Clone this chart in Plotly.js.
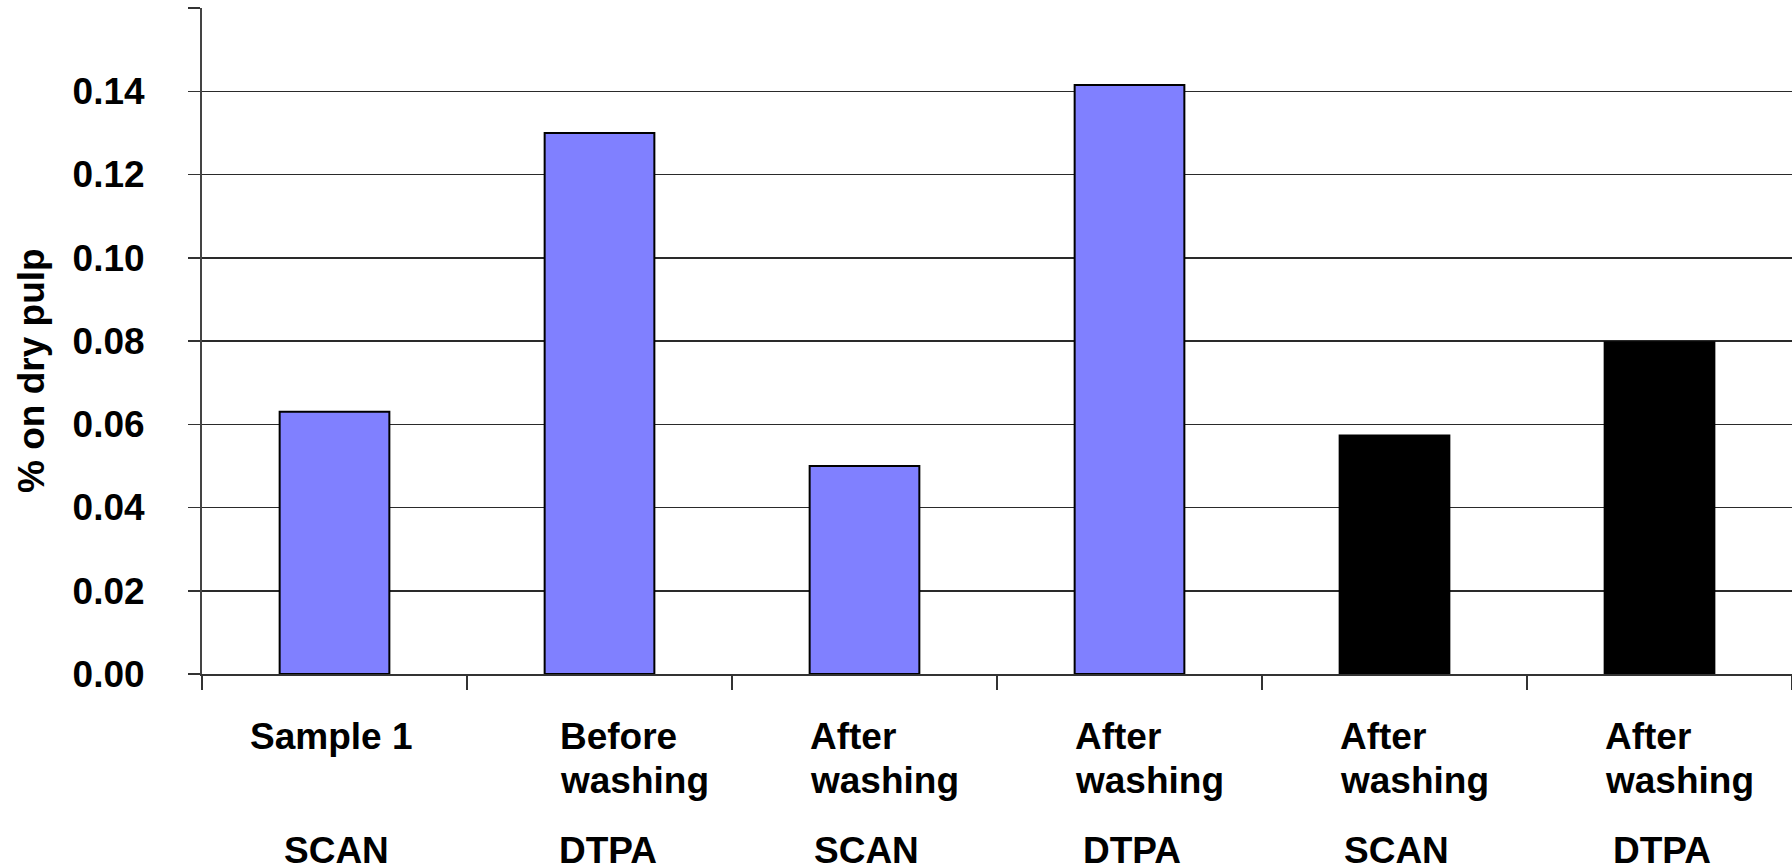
<!DOCTYPE html>
<html>
<head>
<meta charset="utf-8">
<script src="https://cdn.plot.ly/plotly-3.0.1.min.js"></script>
<style>
  html, body { margin: 0; padding: 0; background: #ffffff; }
  #chart { width: 1792px; height: 868px; }
</style>
</head>
<body>
<div id="chart"></div>
<script>
// Pulp samples: first label line, second label line, analysis method
const sampleLabels    = ['Sample 1', 'Before', 'After', 'After', 'After', 'After'];
const sampleSubLabels = ['', 'washing', 'washing', 'washing', 'washing', 'washing'];
const methods         = ['SCAN', 'DTPA', 'SCAN', 'DTPA', 'SCAN', 'DTPA'];

// Content, % on dry pulp
const values = [0.063, 0.13, 0.05, 0.1415, 0.0573, 0.0797];

// Bar fills (blue group, black group)
const barColors = ['#8080FF', '#8080FF', '#8080FF', '#8080FF', '#000000', '#000000'];

// Value axis ticks
const yTickValues = [0, 0.02, 0.04, 0.06, 0.08, 0.10, 0.12, 0.14, 0.16];
const yTickLabels = ['0.00', '0.02', '0.04', '0.06', '0.08', '0.10', '0.12', '0.14', ''];

const FONT = 'Liberation Sans, Arial, Helvetica, sans-serif';
const FS = 37;

const positions = values.map((_, i) => i);
const boundaries = [];
for (let i = 0; i <= values.length; i++) boundaries.push(i - 0.5);

const trace = {
  type: 'bar',
  x: positions,
  y: values,
  width: 0.414,
  marker: {
    color: barColors,
    line: { color: '#000000', width: 2 }
  },
  hoverinfo: 'skip'
};

const annotations = [];
const labelFont = { family: FONT, size: FS, color: '#000000', weight: 700 };

positions.forEach((p, i) => {
  const twoLine = sampleSubLabels[i] !== '';
  // the "Before washing" block sits a little further right than the "After washing" ones
  const shift = !twoLine ? -4 : (i === 1 ? -42 : -57);
  annotations.push({
    xref: 'x', yref: 'paper', x: p, y: 0,
    text: sampleLabels[i], showarrow: false,
    xanchor: twoLine ? 'left' : 'center', yanchor: 'middle',
    xshift: shift, yshift: -62,
    font: labelFont
  });
  if (twoLine) {
    annotations.push({
      xref: 'x', yref: 'paper', x: p, y: 0,
      text: sampleSubLabels[i], showarrow: false,
      xanchor: 'left', yanchor: 'middle',
      xshift: shift, yshift: -106,
      font: labelFont
    });
  }
  annotations.push({
    xref: 'x', yref: 'paper', x: p, y: 0,
    text: methods[i], showarrow: false,
    xanchor: 'center', yanchor: 'middle',
    xshift: i === 1 ? 8 : 2, yshift: -176,
    font: labelFont
  });
});

// Value axis title
annotations.push({
  xref: 'paper', yref: 'paper', x: 0, y: 0.455,
  xanchor: 'center', yanchor: 'middle', xshift: -170,
  text: '% on dry pulp', showarrow: false, textangle: -90,
  font: labelFont
});

const layout = {
  width: 1792,
  height: 868,
  margin: { l: 202, r: 0, t: 8, b: 194, pad: 0 },
  paper_bgcolor: '#ffffff',
  plot_bgcolor: '#ffffff',
  showlegend: false,
  font: { family: FONT, size: FS, color: '#000000' },
  xaxis: {
    type: 'linear',
    range: [-0.5, values.length - 0.5],
    tickvals: boundaries,
    ticktext: boundaries.map(() => ''),
    ticks: 'outside',
    ticklen: 14,
    tickwidth: 1.5,
    tickcolor: '#333333',
    showgrid: false,
    zeroline: false,
    showline: true,
    linecolor: '#333333',
    linewidth: 2,
    fixedrange: true
  },
  yaxis: {
    range: [0, 0.16],
    tickvals: yTickValues,
    ticktext: yTickLabels,
    ticks: 'outside',
    ticklen: 12,
    tickwidth: 1.5,
    tickcolor: '#333333',
    tickfont: { family: FONT, size: FS, color: '#000000', weight: 700 },
    ticklabelstandoff: 36,
    showgrid: true,
    gridcolor: '#2a2a2a',
    gridwidth: 1.5,
    zeroline: false,
    showline: true,
    linecolor: '#444444',
    linewidth: 2,
    fixedrange: true
  },
  annotations: annotations
};

Plotly.newPlot('chart', [trace], layout, { displayModeBar: false, staticPlot: true });
</script>
</body>
</html>
